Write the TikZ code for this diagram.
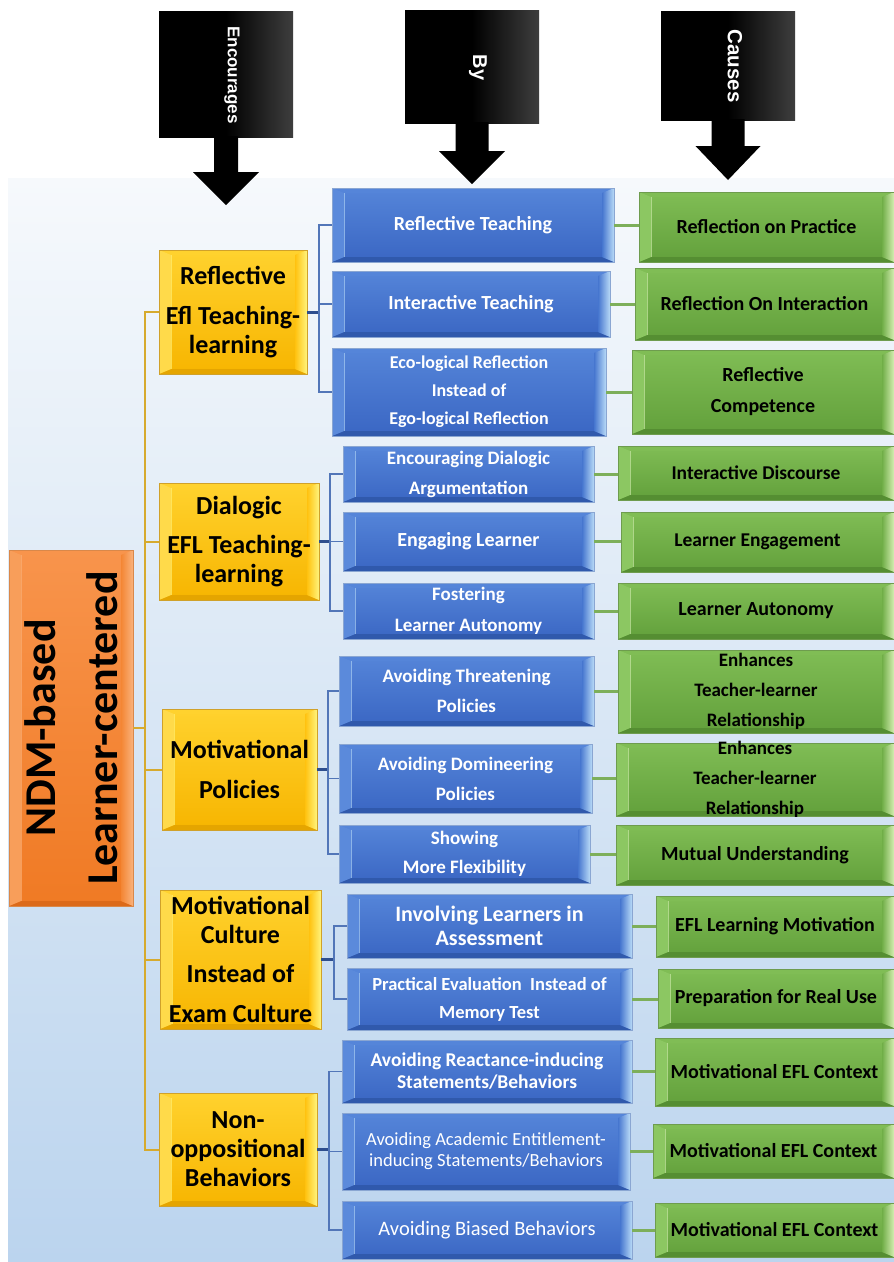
\documentclass[tikz,border=0pt]{standalone}
\usepackage{fontspec}
\setmainfont{Carlito}
\newfontfamily\arialfont{Liberation Sans}
\usetikzlibrary{calc}
\definecolor{bgtop}{HTML}{F6F9FC}
\definecolor{bgbot}{HTML}{BBD4EE}
\definecolor{bluetop}{HTML}{5585D9}
\definecolor{bluebot}{HTML}{3A66C3}
\definecolor{bluemain}{HTML}{4676CF}
\definecolor{bluelite}{HTML}{B8DAF7}
\definecolor{blueleft}{HTML}{5B8ADB}
\definecolor{bluedark}{HTML}{3059AC}
\definecolor{blueedge}{HTML}{8AA6D2}
\definecolor{grntop}{HTML}{80BD55}
\definecolor{grnbot}{HTML}{62A03B}
\definecolor{grnmain}{HTML}{70AE47}
\definecolor{grnlite}{HTML}{D4EEB2}
\definecolor{grnleft}{HTML}{8CC762}
\definecolor{grndark}{HTML}{558E32}
\definecolor{grnedge}{HTML}{6E9C4E}
\definecolor{yeltop}{HTML}{FFD22E}
\definecolor{yelbot}{HTML}{F7B500}
\definecolor{yelmain}{HTML}{FFC20F}
\definecolor{yellite}{HTML}{FFF47C}
\definecolor{yelleft}{HTML}{FFDA4A}
\definecolor{yeldark}{HTML}{E5A500}
\definecolor{yeledge}{HTML}{D0A12A}
\definecolor{orgtop}{HTML}{F8944C}
\definecolor{orgbot}{HTML}{F07A24}
\definecolor{orgmain}{HTML}{F48634}
\definecolor{orglite}{HTML}{FAB27C}
\definecolor{orgleft}{HTML}{F89E5A}
\definecolor{orgdark}{HTML}{DC6A1A}
\definecolor{orgedge}{HTML}{D9884A}
\definecolor{yline}{HTML}{D6AA2E}
\definecolor{bline}{HTML}{5276B8}
\definecolor{bline2}{HTML}{2E4E8E}
\definecolor{gline}{HTML}{7DAF5A}
\definecolor{blkgray}{HTML}{3E3E3E}
\pgfdeclarehorizontalshading{blkshade}{100bp}{color(0bp)=(black); color(25bp)=(black); color(50bp)=(black); color(75bp)=(blkgray); color(100bp)=(blkgray)}
\tikzset{
  bev/.style n args={5}{path picture={
    \path (path picture bounding box.north west) coordinate (pNW)
          (path picture bounding box.south east) coordinate (pSE)
          (path picture bounding box.north east) coordinate (pNE)
          (path picture bounding box.south west) coordinate (pSW);
    \fill[#2] (pNW) -- (pNE) -- ($(pNE)+(-12pt,-5pt)$) -- ($(pNW)+(12pt,-5pt)$) -- cycle;
    \fill[#4] (pSW) -- (pSE) -- ($(pSE)+(-12pt,5pt)$) -- ($(pSW)+(12pt,5pt)$) -- cycle;
    \fill[#1] (pNW) -- ($(pNW)+(12pt,-5pt)$) -- ($(pSW)+(12pt,5pt)$) -- (pSW) -- cycle;
    \draw[#3, line width=1pt, opacity=0.6] ($(pNW)+(12pt,-5pt)$) -- ($(pSW)+(12pt,5pt)$);
    \shade[left color=#5, right color=#3] (pNE) -- ($(pNE)+(-12pt,-5pt)$) -- ($(pSE)+(-12pt,5pt)$) -- (pSE) -- cycle;
  }},
  basebox/.style={inner sep=0pt, outer sep=0pt, line width=0.8pt},
  bluebox/.style={basebox, top color=bluetop, bottom color=bluebot, draw=blueedge,
    bev={blueleft}{bluetop}{bluelite}{bluedark}{bluemain}},
  bluebox text/.style={inner sep=0pt, align=center, text=white, font=\bfseries\fontsize{20}{30}\selectfont},
  grnbox/.style={basebox, top color=grntop, bottom color=grnbot, draw=grnedge,
    bev={grnleft}{grntop}{grnlite}{grndark}{grnmain}},
  grnbox text/.style={inner sep=0pt, align=center, text=black, font=\bfseries\fontsize{20}{30}\selectfont},
  yelbox/.style={basebox, top color=yeltop, bottom color=yelbot, draw=yeledge,
    bev={yelleft}{yeltop}{yellite}{yeldark}{yelmain}},
  yelbox text/.style={inner sep=0pt, align=center, text=black, font=\bfseries\fontsize{26}{29}\selectfont},
  orgbox/.style={basebox, top color=orgtop, bottom color=orgbot, draw=orgedge,
    bev={orgleft}{orgtop}{orglite}{orgdark}{orgmain}},
  orgbox text/.style={inner sep=0pt, align=center, text=black, font=\bfseries\fontsize{44}{62}\selectfont},
  blkrect/.style={inner sep=0pt, outer sep=0pt, shading=blkshade},
  blklabel/.style={inner sep=0pt, text=white, rotate=-90},
  yconn/.style={draw=yline, line width=2pt},
  bconn/.style={draw=bline, line width=1.6pt},
  bconnb/.style={draw=bline2, line width=3pt},
  gconn/.style={draw=gline, line width=3pt},
}
\newcommand\mybox[8]{%
  \node[#2, minimum width={(#5-#3)*1pt}, minimum height={(#6-#4)*1pt}] (#1) at ({(#3+#5)/2},{(#4+#6)/2}) {};
  \node[#2 text, #7] (#1t) at (#1.center) {#8};}
\begin{document}
\begin{tikzpicture}[x=1pt,y=-1pt]
\useasboundingbox (0,0) rectangle (894,1262);
\fill[white] (0,0) rectangle (894,1262);
\shade[top color=bgtop, bottom color=bgbot] (8,178) rectangle (894,1262);

% top black arrows
\node[blkrect, minimum width=134pt, minimum height=126pt] (encR) at (226,74) {};
\fill[black] (encR.south) ++(-12,-1) -- ++(0,36) -- ++(-21,0) -- ++(33,33) -- ++(33,-33) -- ++(-21,0) -- ++(0,-36) -- cycle;
\node[blklabel, font=\arialfont\bfseries\fontsize{17}{19}\selectfont] (encL) at (232,75) {Encourages};

\node[blkrect, minimum width=134pt, minimum height=113pt] (byR) at (472,66.5) {};
\fill[black] (byR.south) ++(-16.5,-1) -- ++(0,29) -- ++(-16.5,0) -- ++(33,33) -- ++(33,-33) -- ++(-16.5,0) -- ++(0,-29) -- cycle;
\node[blklabel, font=\arialfont\bfseries\fontsize{20}{22}\selectfont] (byL) at (478,67.5) {By};

\node[blkrect, minimum width=134pt, minimum height=109pt] (caR) at (728,65.5) {};
\fill[black] (caR.south) ++(-16.5,-1) -- ++(0,27) -- ++(-16,0) -- ++(32.5,34) -- ++(32.5,-34) -- ++(-16,0) -- ++(0,-27) -- cycle;
\node[blklabel, font=\arialfont\bfseries\fontsize{20.5}{22}\selectfont] (caL) at (735,66) {Causes};

% orange root
\mybox{ndm}{orgbox}{9}{550}{133}{906}{rotate=90}{NDM-based\\Learner-centered}

% yellow
\mybox{y1}{yelbox}{159}{250}{307}{374}{}{Reflective\\[11pt]Efl Teaching-\\learning}
\mybox{y2}{yelbox}{159}{483}{319}{600}{}{Dialogic\\[10pt]EFL Teaching-\\learning}
\mybox{y3}{yelbox}{162}{709}{317}{830}{}{Motivational\\[11pt]Policies}
\mybox{y4}{yelbox}{160}{890}{321}{1029}{}{Motivational\\Culture\\[10pt]Instead of\\[11pt]Exam Culture}
\mybox{y5}{yelbox}{159}{1093}{317}{1206}{}{Non-\\oppositional\\Behaviors}

% blue
\mybox{b1}{bluebox}{332}{188}{614}{262}{}{Reflective Teaching}
\mybox{b2}{bluebox}{332}{271}{610}{337}{}{Interactive Teaching}
\mybox{b3}{bluebox}{332}{348}{606}{436}{font=\bfseries\fontsize{18}{28}\selectfont}{Eco-logical Reflection\\Instead of\\Ego-logical Reflection}
\mybox{b4}{bluebox}{343}{446}{594}{502}{font=\bfseries\fontsize{19}{30}\selectfont}{Encouraging Dialogic\\Argumentation}
\mybox{b5}{bluebox}{343}{512}{594}{571}{}{Engaging Learner}
\mybox{b6}{bluebox}{343}{583}{594}{639}{font=\bfseries\fontsize{19}{31}\selectfont}{Fostering\\Learner Autonomy}
\mybox{b7}{bluebox}{339}{656}{594}{726}{font=\bfseries\fontsize{19}{30}\selectfont}{Avoiding Threatening\\Policies}
\mybox{b8}{bluebox}{339}{744}{592}{813}{font=\bfseries\fontsize{19}{30}\selectfont}{Avoiding Domineering\\Policies}
\mybox{b9}{bluebox}{339}{825}{590}{883}{font=\bfseries\fontsize{19}{29}\selectfont}{Showing\\More Flexibility}
\mybox{b10}{bluebox}{347}{894}{632}{958}{font=\bfseries\fontsize{22}{24}\selectfont}{Involving Learners in\\Assessment}
\mybox{b11}{bluebox}{347}{968}{632}{1030}{font=\bfseries\fontsize{18.5}{28}\selectfont}{Practical Evaluation\ \ Instead of\\Memory Test}
\mybox{b12}{bluebox}{342}{1040}{632}{1103}{font=\bfseries\fontsize{19.5}{22}\selectfont}{Avoiding Reactance-inducing\\Statements/Behaviors}
\mybox{b13}{bluebox}{342}{1113}{630}{1190}{font=\fontsize{18.5}{21}\selectfont}{Avoiding Academic Entitlement-\\inducing Statements/Behaviors}
\mybox{b14}{bluebox}{342}{1201}{632}{1259}{font=\fontsize{20.5}{24}\selectfont}{Avoiding Biased Behaviors}

% green
\mybox{g1}{grnbox}{639}{192}{894}{262}{}{Reflection on Practice}
\mybox{g2}{grnbox}{635}{268}{894}{340}{}{Reflection On Interaction}
\mybox{g3}{grnbox}{632}{350}{894}{434}{font=\bfseries\fontsize{20}{31}\selectfont}{Reflective\\Competence}
\mybox{g4}{grnbox}{618}{446}{894}{500}{font=\bfseries\fontsize{19.5}{30}\selectfont}{Interactive Discourse}
\mybox{g5}{grnbox}{621}{512}{894}{572}{font=\bfseries\fontsize{19.5}{30}\selectfont}{Learner Engagement}
\mybox{g6}{grnbox}{618}{583}{894}{639}{}{Learner Autonomy}
\mybox{g7}{grnbox}{618}{650}{894}{733}{font=\bfseries\fontsize{19}{30}\selectfont}{Enhances\\Teacher-learner\\Relationship}
\mybox{g8}{grnbox}{616}{743}{894}{816}{font=\bfseries\fontsize{19}{30}\selectfont}{Enhances\\Teacher-learner\\Relationship}
\mybox{g9}{grnbox}{616}{825}{894}{885}{}{Mutual Understanding}
\mybox{g10}{grnbox}{656}{896}{894}{957}{}{EFL Learning Motivation}
\mybox{g11}{grnbox}{658}{969}{894}{1028}{}{Preparation for Real Use}
\mybox{g12}{grnbox}{655}{1038}{894}{1106}{}{Motivational EFL Context}
\mybox{g13}{grnbox}{653}{1124}{894}{1178}{}{Motivational EFL Context}
\mybox{g14}{grnbox}{655}{1203}{894}{1257}{}{Motivational EFL Context}

% yellow tree
\coordinate (trunk) at ([xshift=12pt]ndm.east);
\draw[yconn] (ndm.east) -- (trunk);
\foreach \n in {y1,y2,y3,y4,y5} \draw[yconn] (trunk) |- (\n.west);

% blue brackets
\coordinate (k1) at ([xshift=12pt]y1.east);
\coordinate (k2) at ([xshift=11pt]y2.east);
\coordinate (k3) at ([xshift=11pt]y3.east);
\coordinate (k4) at ([xshift=13pt]y4.east);
\coordinate (k5) at ([xshift=12pt]y5.east);
\draw[bconnb] (y1.east) -- (k1);
\draw[bconnb] (y2.east) -- (k2);
\draw[bconnb] (y3.east) -- (k3);
\draw[bconnb] (y4.east) -- (k4);
\draw[bconnb] (y5.east) -- (k5);
\foreach \n in {b1,b2,b3} \draw[bconn] (k1) |- (\n.west);
\foreach \n in {b4,b5,b6} \draw[bconn] (k2) |- (\n.west);
\foreach \n in {b7,b8,b9} \draw[bconn] (k3) |- (\n.west);
\foreach \n in {b10,b11} \draw[bconn] (k4) |- (\n.west);
\foreach \n in {b12,b13,b14} \draw[bconn] (k5) |- (\n.west);

% green links
\foreach \a/\b in {b1/g1,b2/g2,b3/g3,b4/g4,b5/g5,b6/g6,b7/g7,b8/g8,b9/g9,b10/g10,b11/g11,b12/g12,b13/g13,b14/g14}
  \draw[gconn] (\a.east) -- (\a.east -| \b.west);
\end{tikzpicture}
\end{document}
